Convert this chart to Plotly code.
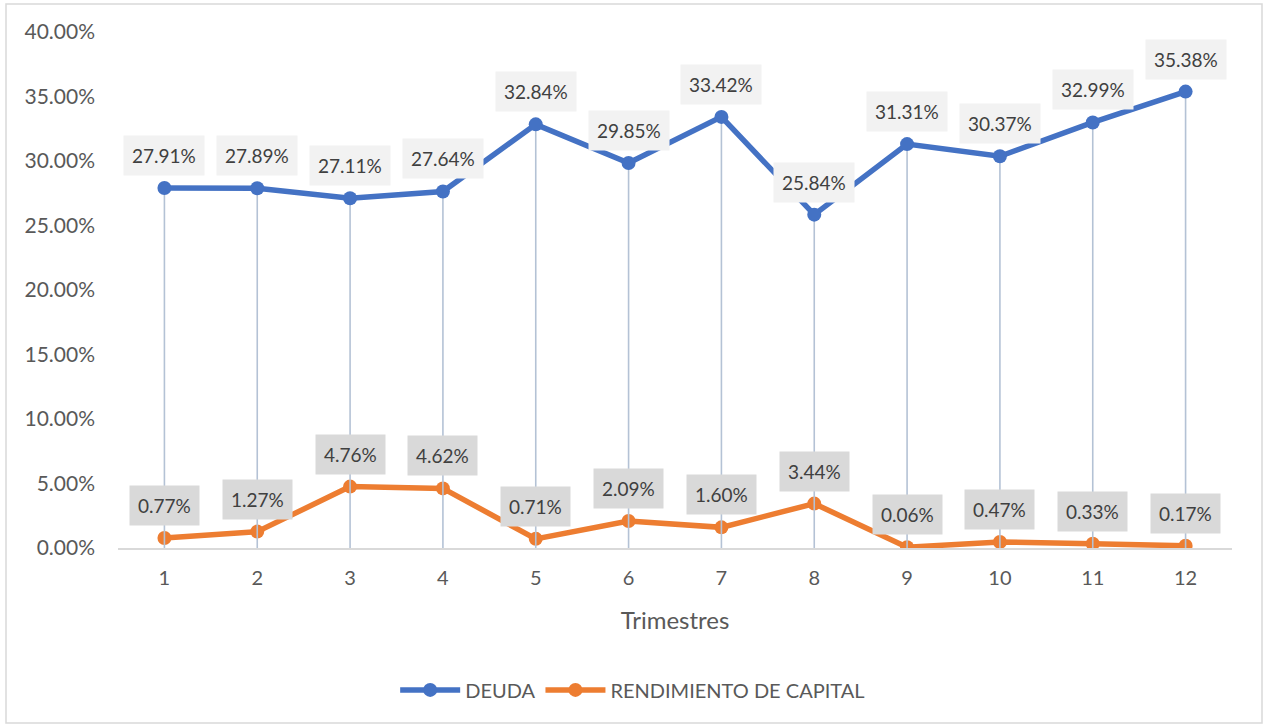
import plotly.graph_objects as go

trimestres = [1, 2, 3, 4, 5, 6, 7, 8, 9, 10, 11, 12]
deuda = [0.2791, 0.2789, 0.2711, 0.2764, 0.3284, 0.2985, 0.3342, 0.2584, 0.3131, 0.3037, 0.3299, 0.3538]
rendimiento = [0.0077, 0.0127, 0.0476, 0.0462, 0.0071, 0.0209, 0.0160, 0.0344, 0.0006, 0.0047, 0.0033, 0.0017]
y_ticks = [0.0, 0.05, 0.10, 0.15, 0.20, 0.25, 0.30, 0.35, 0.40]

BLUE = "#4472c4"
ORANGE = "#ed7d31"
FONT = "Lato"
TXT = "#595959"

fig = go.Figure()

fig.add_trace(go.Scatter(
    x=trimestres, y=rendimiento, mode="lines+markers", name="RENDIMIENTO DE CAPITAL",
    line=dict(color=ORANGE, width=5.5), marker=dict(color=ORANGE, size=14),
))

# drop lines from DEUDA points to the axis
dx, dy = [], []
for xv, yv in zip(trimestres, deuda):
    dx += [xv, xv, None]
    dy += [0, yv, None]
fig.add_trace(go.Scatter(
    x=dx, y=dy, mode="lines", showlegend=False, hoverinfo="skip",
    line=dict(color="#b4c2d5", width=1.6),
))

fig.add_trace(go.Scatter(
    x=trimestres, y=deuda, mode="lines+markers", name="DEUDA",
    line=dict(color=BLUE, width=5.5), marker=dict(color=BLUE, size=14),
))

annotations = []
for xv, yv in zip(trimestres, deuda):
    annotations.append(dict(
        x=xv, y=yv, text=f"{yv:.2%}", showarrow=False, yanchor="bottom", yshift=12,
        bgcolor="#f2f2f2", borderpad=8, font=dict(family=FONT, size=19, color="#404040"),
    ))
for xv, yv in zip(trimestres, rendimiento):
    annotations.append(dict(
        x=xv, y=yv, text=f"{yv:.2%}", showarrow=False, yanchor="bottom", yshift=12,
        bgcolor="#d9d9d9", borderpad=8, font=dict(family=FONT, size=19, color="#404040"),
    ))

# plot area: x 118..1232, y 32..548 (page pixels)
fig.update_layout(
    width=1266, height=724,
    margin=dict(l=118, r=34, t=32, b=176),
    paper_bgcolor="white", plot_bgcolor="white",
    font=dict(family=FONT, color=TXT, size=20),
    annotations=annotations,
    legend=dict(orientation="h", x=0.462, xanchor="center", y=-0.275, yanchor="middle",
                traceorder="reversed", font=dict(family=FONT, size=20, color=TXT),
                itemwidth=60),
    showlegend=True,
    shapes=[dict(type="rect", xref="paper", yref="paper",
                 x0=(6 - 118) / 1114, x1=(1262 - 118) / 1114,
                 y0=(548 - 723) / 516, y1=(548 - 4) / 516,
                 line=dict(color="#d9d9d9", width=1.5), layer="below")],
)

fig.update_xaxes(
    range=[0.5, 12.5], tickmode="array", tickvals=trimestres, ticktext=[str(t) for t in trimestres],
    showgrid=False, zeroline=False, showline=True, linecolor="#d9d9d9", linewidth=1.5,
    ticks="", tickfont=dict(family=FONT, size=20, color=TXT), ticklabelstandoff=11,
    title=dict(text="Trimestres", font=dict(family=FONT, size=24, color=TXT), standoff=24),
)
fig.update_yaxes(
    range=[0, 0.4], tickmode="array", tickvals=y_ticks, tickformat=".2%",
    showgrid=False, zeroline=False, showline=False, ticks="",
    tickfont=dict(family=FONT, size=21, color=TXT), ticklabelstandoff=22,
)

fig.write_html("out.html", config={"displayModeBar": False},
               post_script="document.body.style.margin='0';")
